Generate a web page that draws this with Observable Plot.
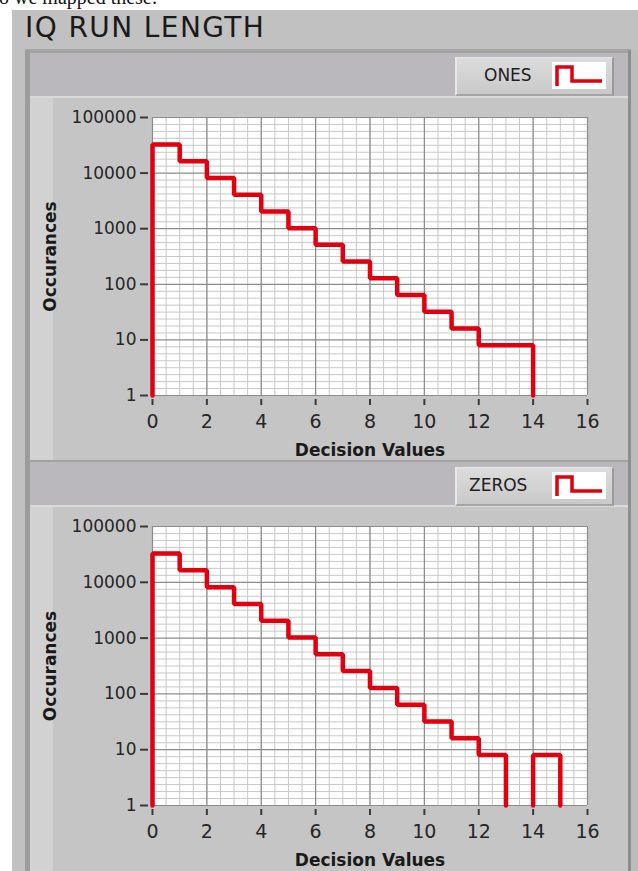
<!DOCTYPE html>
<html><head><meta charset="utf-8">
<script src="https://cdn.jsdelivr.net/npm/d3@7"></script>
<script src="https://cdn.jsdelivr.net/npm/@observablehq/plot@0.6"></script>
<style>
body{margin:0;width:638px;height:871px;overflow:hidden;background:#fff;position:relative;font-family:"DejaVu Sans",sans-serif}
.abs{position:absolute}
.band{position:absolute;left:30px;width:598px;background:#bab8bc;border-top:2px solid #a2a2a2}
.panel{position:absolute;left:30px;width:598px;background:#c5c5c5;border-top:2px solid #dadada}
.strip{position:absolute;left:0;top:0;bottom:0;width:23px;background:#d2d2d2}
.legend{position:absolute;left:455px;width:155px;height:36px;background:linear-gradient(#dcdcdc,#c9c9c9);border-left:2px solid #e8e8e8;border-top:1px solid #e4e4e4;border-right:2px solid #9a9a9a;border-bottom:2px solid #a4a4a4}
.legend span{position:absolute;top:7px;font:17px "DejaVu Sans",sans-serif;color:#1e1e1e}
.legend svg{position:absolute;left:95px;top:4px;background:#fff}
.chart{position:absolute;left:30px}
</style></head><body>
<div class="abs" style="left:-1px;top:-14px;font:20px 'Liberation Serif',serif;color:#111;white-space:nowrap">o we mapped these:</div>
<div class="abs" style="left:12px;top:10px;right:0;bottom:0;background:#c1c1c1"></div>
<div class="abs" style="left:25px;top:11px;font:28px 'DejaVu Sans',sans-serif;letter-spacing:1.4px;color:#1a1a1a;white-space:nowrap">IQ RUN LENGTH</div>
<div class="abs" style="left:25px;top:49px;width:606px;height:2px;background:#a5a5a5"></div>
<div class="abs" style="left:25px;top:50px;width:5px;bottom:0;background:#9c9c9c"></div>
<div class="abs" style="left:628px;top:50px;width:3px;bottom:0;background:#8e8e8e"></div>
<div class="abs" style="left:631px;top:50px;width:7px;bottom:0;background:#bcbcbc"></div>

<div class="band" style="top:51px;height:45px"></div>
<div class="panel" style="top:96px;height:362px"><div class="strip"></div></div>
<div class="band" style="top:460px;height:45px"></div>
<div class="panel" style="top:505px;height:366px"><div class="strip"></div></div>

<div class="legend" style="top:57px"><span style="left:27px">ONES</span>
<svg width="54" height="27"><path d="M5 24 V5 H20 V19 H50" fill="none" stroke="#e0000f" stroke-width="3.5"/></svg></div>
<div class="legend" style="top:467px"><span style="left:12px">ZEROS</span>
<svg width="54" height="27"><path d="M5 24 V5 H20 V19 H50" fill="none" stroke="#e0000f" stroke-width="3.5"/></svg></div>

<div id="c1" class="chart" style="top:98px"></div>
<div id="c2" class="chart" style="top:507px"></div>

<script>
// Run length (decision value) bins and occurrence counts
const onesRuns   = [0,1,2,3,4,5,6,7,8,9,10,11,12,13,14];
const onesCounts = [32768,16384,8192,4096,2048,1024,512,256,128,64,32,16,8,8,0];
const zerosRuns   = [0,1,2,3,4,5,6,7,8,9,10,11,12,13,14,15];
const zerosCounts = [32768,16384,8192,4096,2048,1024,512,256,128,64,32,16,8,0,8,0];
const xTickValues = [0,2,4,6,8,10,12,14,16];
const yTickValues = [1,10,100,1000,10000,100000];
const xLabel = "Decision Values";
const yLabel = "Occurances";

const floorVal = 1;
function stepVertices(runs, counts) {
  const pts = []; let seg = 0; let prev = 0;
  for (let i = 0; i < runs.length; i++) {
    const c = counts[i];
    if (c > 0) {
      if (prev === 0) pts.push({x: runs[i], y: floorVal, seg});
      pts.push({x: runs[i], y: c, seg});
      pts.push({x: runs[i] + 1, y: c, seg});
    } else if (prev > 0) {
      pts.push({x: runs[i], y: floorVal, seg});
      seg++;
    }
    prev = c;
  }
  return pts;
}

const xMinor = d3.range(0, 16.001, 0.5);
const yMinor = [];
for (let d = 0; d < 5; d++) for (let j = 1; j < 8; j++) yMinor.push(Math.pow(10, d + j / 8));

function makeChart(runs, counts, height, mt, mb) {
  return Plot.plot({
    width: 598, height,
    marginLeft: 122, marginRight: 41, marginTop: mt, marginBottom: mb,
    style: {background: "transparent", fontFamily: "DejaVu Sans, sans-serif", fontSize: "17px", color: "#262626"},
    x: {domain: [0, 16]},
    y: {type: "log", domain: [1, 100000]},
    marks: [
      Plot.frame({fill: "white", stroke: "none"}),
      Plot.gridX(xMinor, {stroke: "#c8c8c8", strokeOpacity: 1, strokeWidth: 1}),
      Plot.gridY(yMinor, {stroke: "#c8c8c8", strokeOpacity: 1, strokeWidth: 1}),
      Plot.gridX(xTickValues, {stroke: "#8c8c8c", strokeOpacity: 1, strokeWidth: 1.2}),
      Plot.gridY(yTickValues, {stroke: "#8c8c8c", strokeOpacity: 1, strokeWidth: 1.2}),
      Plot.axisX(xTickValues, {tickSize: 6, dy: 4, tickPadding: 9, strokeWidth: 2, stroke: "#3a3a3a",
        tickFormat: d => String(d), fontSize: 19, label: xLabel, labelAnchor: "center", labelOffset: 60, labelArrow: "none"}),
      Plot.axisY(yTickValues, {tickSize: 8, dx: -4, tickPadding: 4, strokeWidth: 2, stroke: "#3a3a3a",
        tickFormat: d => String(d), fontSize: 17, label: yLabel, labelAnchor: "center", labelOffset: 109, labelArrow: "none"}),
      Plot.line(stepVertices(runs, counts), {x: "x", y: "y", z: "seg", stroke: "#e0000f", strokeWidth: 4.5, strokeLinejoin: "miter", curve: "linear"})
    ]
  });
}

function styleLabels(svg) {
  d3.select(svg).selectAll("g[aria-label='x-axis label'] text, g[aria-label='y-axis label'] text")
    .style("font-weight", "bold").style("font-size", "17px").attr("fill", "#1a1a1a");
  return svg;
}

document.getElementById("c1").appendChild(styleLabels(makeChart(onesRuns, onesCounts, 362, 19, 65)));
document.getElementById("c2").appendChild(styleLabels(makeChart(zerosRuns, zerosCounts, 364, 19, 66)));
</script>
</body></html>
